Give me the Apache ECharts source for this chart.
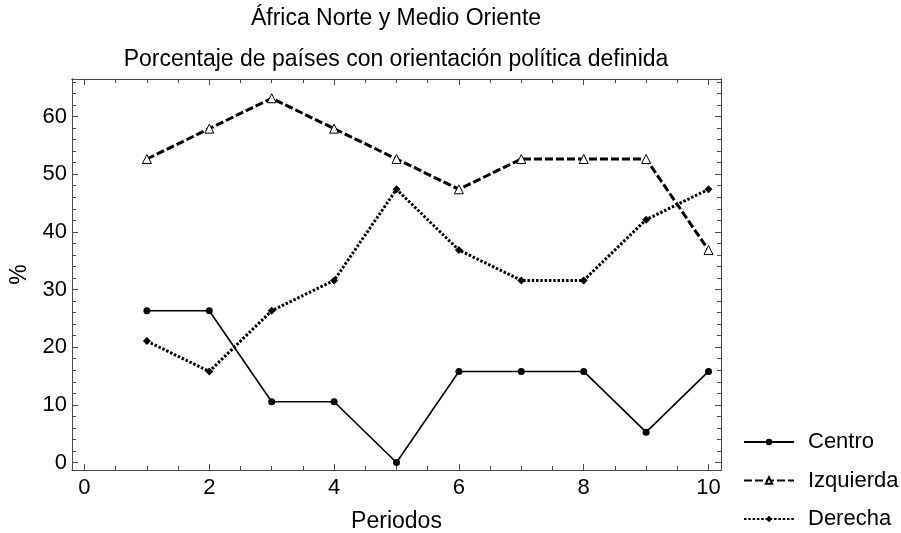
<!DOCTYPE html>
<html><head><meta charset="utf-8">
<script src="https://cdn.jsdelivr.net/npm/echarts@6/dist/echarts.min.js"></script>
<style>html,body{margin:0;padding:0;background:#fff}#c{width:901px;height:533px}</style>
</head><body><div id="c"></div>
<script>
const periods = [1, 2, 3, 4, 5, 6, 7, 8, 9, 10];
const centro = [26.32, 26.32, 10.53, 10.53, 0, 15.79, 15.79, 15.79, 5.26, 15.79];
const izquierda = [52.63, 57.89, 63.16, 57.89, 52.63, 47.37, 52.63, 52.63, 52.63, 36.84];
const derecha = [21.05, 15.79, 26.32, 31.58, 47.37, 36.84, 31.58, 31.58, 42.11, 47.37];
const xMajor = [0, 2, 4, 6, 8, 10];
const xMinor = [0.5, 1, 1.5, 2.5, 3, 3.5, 4.5, 5, 5.5, 6.5, 7, 7.5, 8.5, 9, 9.5];
const yMajor = [0, 10, 20, 30, 40, 50, 60];
const yMinor = [2, 4, 6, 8, 12, 14, 16, 18, 22, 24, 26, 28, 32, 34, 36, 38, 42, 44, 46, 48, 52, 54, 56, 58, 62, 64, 66];
const titleLine1 = 'África Norte y Medio Oriente';
const titleLine2 = 'Porcentaje de países con orientación política definida';

const FONT = 'Liberation Sans, Arial, sans-serif';
const AX = '#4a4a4a';
const xr = {min: -0.2, max: 10.2};
const yr = {min: -1.3, max: 66.5};
const TICKFS = 22;
const LABFS = 23;

function xAxisDef(pos, ticks, len, labels, extra) {
  return Object.assign({
    type: 'value', position: pos, min: xr.min, max: xr.max,
    axisLine: {show: true, onZero: false, lineStyle: {color: AX, width: 1}},
    axisTick: {show: true, inside: true, length: len, customValues: ticks, lineStyle: {color: AX, width: 1}},
    axisLabel: labels ? {show: true, customValues: ticks, margin: 7, fontSize: TICKFS, color: '#000', fontFamily: FONT} : {show: false},
    splitLine: {show: false}
  }, extra || {});
}
function yAxisDef(pos, ticks, len, labels, extra) {
  return Object.assign({
    type: 'value', position: pos, min: yr.min, max: yr.max,
    axisLine: {show: true, onZero: false, lineStyle: {color: AX, width: 1}},
    axisTick: {show: true, inside: true, length: len, customValues: ticks, lineStyle: {color: AX, width: 1}},
    axisLabel: labels ? {show: true, customValues: ticks, margin: 5, fontSize: TICKFS, color: '#000', fontFamily: FONT} : {show: false},
    splitLine: {show: false}
  }, extra || {});
}
const zip = arr => periods.map((p, i) => [p, arr[i]]);

const chart = echarts.init(document.getElementById('c'), null, {renderer: 'canvas'});
chart.setOption({
  animation: false,
  backgroundColor: '#fff',
  textStyle: {fontFamily: FONT},
  title: [
    {text: titleLine1, left: 396, top: 7, textAlign: 'center', padding: 0, textStyle: {fontSize: LABFS, fontWeight: 'normal', color: '#000', fontFamily: FONT}},
    {text: titleLine2, left: 396, top: 48, textAlign: 'center', padding: 0, textStyle: {fontSize: LABFS, fontWeight: 'normal', color: '#000', fontFamily: FONT}}
  ],
  grid: {left: 72, right: 180, top: 79, bottom: 63, containLabel: false, outerBoundsMode: 'none'},
  xAxis: [
    xAxisDef('bottom', xMajor, 6, true, {name: 'Periodos', nameLocation: 'middle', nameGap: 40, nameTextStyle: {fontSize: LABFS, color: '#000', fontFamily: FONT}}),
    xAxisDef('bottom', xMinor, 4, false),
    xAxisDef('top', xMajor, 6, false),
    xAxisDef('top', xMinor, 4, false)
  ],
  yAxis: [
    yAxisDef('left', yMajor, 6, true, {name: '%', nameLocation: 'middle', nameGap: 39, nameTextStyle: {fontSize: LABFS, color: '#000', fontFamily: FONT}}),
    yAxisDef('left', yMinor, 4, false),
    yAxisDef('right', yMajor, 6, false),
    yAxisDef('right', yMinor, 4, false)
  ],
  legend: {
    orient: 'vertical', left: 743, top: 431, padding: 0, itemWidth: 50, itemHeight: 8, itemGap: 16.5,
    textStyle: {fontSize: TICKFS, color: '#000', fontFamily: FONT, padding: [0, 0, 0, 9]},
    data: ['Centro', 'Izquierda', 'Derecha']
  },
  series: [
    {name: 'Centro', type: 'line', xAxisIndex: 0, yAxisIndex: 0, data: zip(centro),
     symbol: 'circle', symbolSize: 7, itemStyle: {color: '#000'},
     lineStyle: {color: '#000', width: 1.6, type: 'solid'}},
    {name: 'Izquierda', type: 'line', xAxisIndex: 0, yAxisIndex: 0, data: zip(izquierda),
     symbol: 'triangle', symbolSize: 9, itemStyle: {color: '#fff', borderColor: '#000', borderWidth: 1},
     lineStyle: {color: '#000', width: 3, type: [8, 3]}},
    {name: 'Derecha', type: 'line', xAxisIndex: 0, yAxisIndex: 0, data: zip(derecha),
     symbol: 'diamond', symbolSize: 8, itemStyle: {color: '#000'},
     lineStyle: {color: '#000', width: 3, type: [2.5, 1.8]}}
  ]
});
</script></body></html>
